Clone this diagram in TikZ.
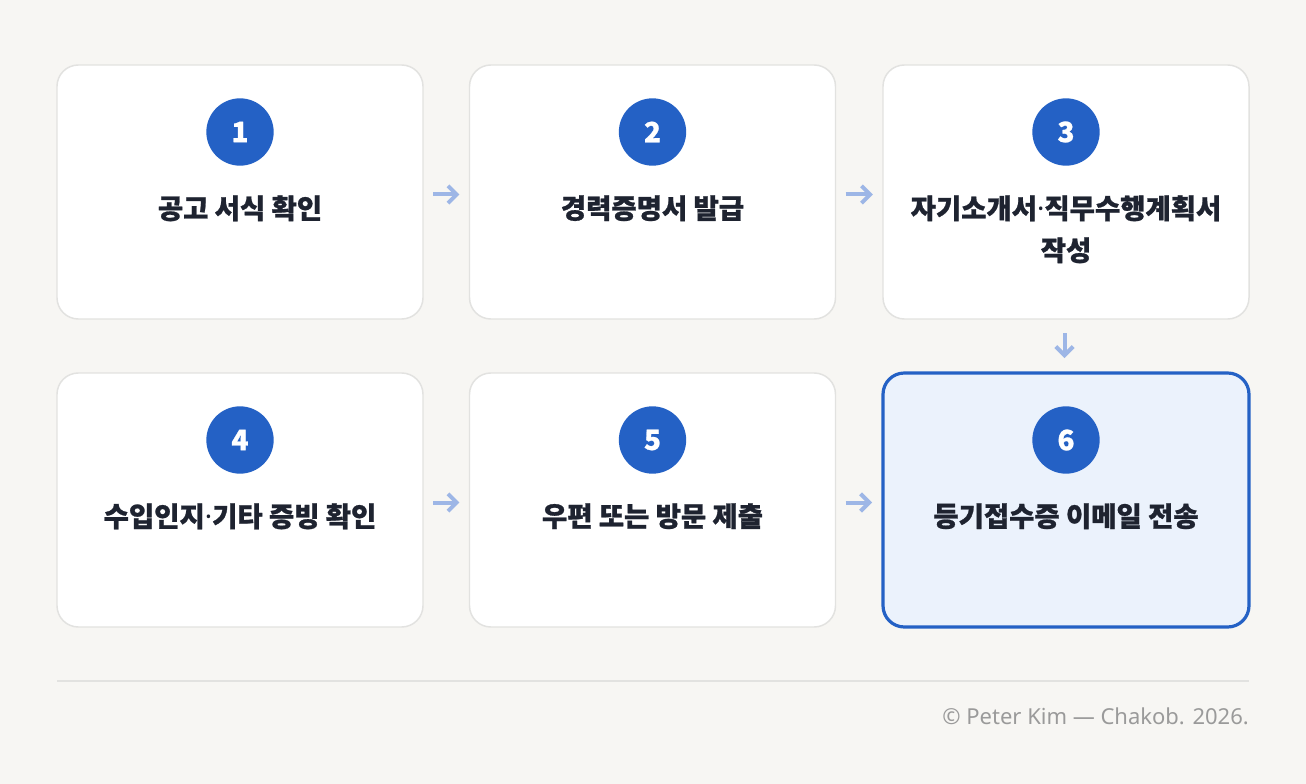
\documentclass[tikz,border=0pt]{standalone}
\usepackage{fontspec}
\setmainfont{Noto Sans CJK KR}[BoldFeatures={FakeBold=0.9}]
\newfontfamily\footfont{Noto Sans}
\newcommand\middot{{\footfont\bfseries ·}}
\usetikzlibrary{calc,arrows.meta,positioning}

\definecolor{pagebg}{HTML}{F7F6F3}
\definecolor{boxline}{HTML}{E2E2E0}
\definecolor{stepblue}{HTML}{2461C5}
\definecolor{lastfill}{HTML}{EBF2FC}
\definecolor{arrowblue}{HTML}{9DB6E6}
\definecolor{ink}{HTML}{1E2330}
\definecolor{footgray}{HTML}{9A9A9A}

\begin{document}
\begin{tikzpicture}[x=0.75pt,y=-0.75pt,
    stepbox/.style={draw=boxline,fill=white,line width=1.1pt,rounded corners=16pt,minimum width=274.5pt,minimum height=190.5pt,inner sep=0pt},
    lastbox/.style={stepbox,draw=stepblue,fill=lastfill,line width=2.4pt},
    numdot/.style={circle,fill=stepblue,minimum size=50.5pt,inner sep=0pt,text=white,font=\bfseries\fontsize{21}{21}\selectfont},
    steptext/.style={anchor=north,align=center,inner sep=0pt,text=ink,font=\bfseries\fontsize{20.6}{31.5}\selectfont},
    flow/.style={draw=arrowblue,line width=3pt,-{Straight Barb[length=6.5pt,width=13pt]},shorten <=7pt,shorten >=7pt},
    downflow/.style={flow,shorten <=10pt,shorten >=10pt}]

  %% page and margins
  \path[use as bounding box,fill=pagebg] (0,0) rectangle (1306,784);

  %% the six steps
  \foreach \n/\cx/\cy/\sty/\txt in {1/240/192/stepbox/{공고 서식 확인},
      2/652.5/192/stepbox/{경력증명서 발급},
      3/1066/192/stepbox/{자기소개서\middot 직무수행계획서\\작성},
      4/240/500/stepbox/{수입인지\middot 기타 증빙 확인},
      5/652.5/500/stepbox/{우편 또는 방문 제출},
      6/1066/500/lastbox/{등기접수증 이메일 전송}}{
    \node[\sty] (box\n) at (\cx,\cy) {};
    \node[numdot] (num\n) at ($(box\n.center)+(0,-60)$) {\n};
    \node[steptext] (label\n) at ($(box\n.center)+(0,3)$) {\txt};
  }

  %% arrows between steps (a little below the box middle)
  \draw[flow] ($(box1.east)+(0,2.5)$) -- ($(box2.west)+(0,2.5)$);
  \draw[flow] ($(box2.east)+(0,2.5)$) -- ($(box3.west)+(0,2.5)$);
  \draw[downflow] ($(box3.south)+(-1.5,0)$) -- ($(box6.north)+(-1.5,0)$);
  \draw[flow] ($(box4.east)+(0,2.5)$) -- ($(box5.west)+(0,2.5)$);
  \draw[flow] ($(box5.east)+(0,2.5)$) -- ($(box6.west)+(0,2.5)$);

  %% footer
  \coordinate (ruleL) at (57,681);
  \coordinate (ruleR) at (1249,681);
  \draw[boxline,line width=1.1pt] (ruleL) -- (ruleR);
  \node[anchor=east,inner sep=0pt,text=footgray,font=\footfont\fontsize{16.5}{16.5}\selectfont] (credit) at (1249,716) {© Peter Kim — Chakob. 2026.};

\end{tikzpicture}
\end{document}
